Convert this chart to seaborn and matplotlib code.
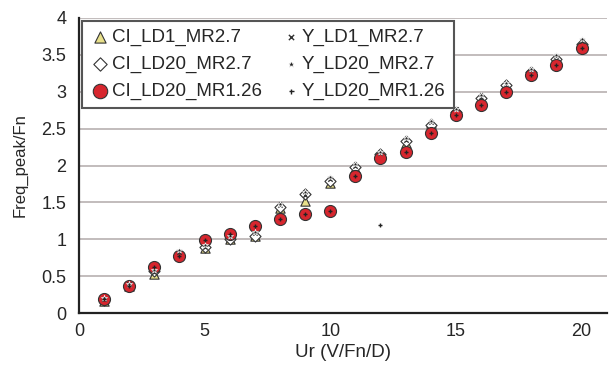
import numpy as np
import pandas as pd
import matplotlib
matplotlib.use("Agg")
import matplotlib.pyplot as plt
import seaborn as sns

sns.set_style("white")
plt.rcParams['font.family'] = ['Liberation Sans', 'DejaVu Sans']

ur = [1, 2, 3, 4, 5, 6, 7, 8, 9, 10, 11, 12, 13, 14, 15, 16, 17, 18, 19, 20]
ci_ld1_mr27 = [0.17, 0.37, 0.53, 0.80, 0.88, 1.00, 1.05, 1.42, 1.52, 1.76, 1.97, 2.14, 2.30, 2.57, 2.73, 2.88, 3.08, 3.26, 3.45, 3.67]
ci_ld20_mr27 = [0.18, 0.37, 0.57, 0.77, 0.89, 1.01, 1.05, 1.44, 1.62, 1.79, 1.98, 2.15, 2.33, 2.55, 2.72, 2.91, 3.09, 3.27, 3.45, 3.65]
ci_ld20_mr126 = [0.19, 0.37, 0.62, 0.78, 0.99, 1.07, 1.18, 1.27, 1.34, 1.39, 1.86, 2.10, 2.19, 2.44, 2.68, 2.82, 3.00, 3.23, 3.36, 3.59]
y_ld1_mr27 = [0.19, 0.39, 0.56, 0.83, 0.90, 1.03, 1.08, 1.46, 1.60, 1.82, 2.00, 2.17, 2.35, 2.59, 2.76, 2.93, 3.11, 3.29, 3.48, 3.69]
y_ld20_mr27 = [0.20, 0.40, 0.58, 0.85, 0.92, 1.04, 1.10, 1.48, 1.64, 1.84, 2.02, 2.19, 2.37, 2.61, 2.77, 2.95, 3.12, 3.31, 3.50, 3.71]
y_ld20_mr126 = [0.19, 0.37, 0.62, 0.78, 0.99, 1.07, 1.18, 1.27, 1.34, 1.39, 1.86, 1.20, 2.19, 2.44, 2.68, 2.82, 3.00, 3.23, 3.36, 3.59]

series = [
    ("CI_LD1_MR2.7", ci_ld1_mr27, dict(marker="^", s=45, color="#e8e08a", edgecolor="#333333", linewidth=0.8)),
    ("CI_LD20_MR2.7", ci_ld20_mr27, dict(marker="D", s=32, color="white", edgecolor="#333333", linewidth=0.8)),
    ("CI_LD20_MR1.26", ci_ld20_mr126, dict(marker="o", s=75, color="#d7262e", edgecolor="#333333", linewidth=0.8)),
    ("Y_LD1_MR2.7", y_ld1_mr27, dict(marker="x", s=10, color="#333333", linewidth=1.0)),
    ("Y_LD20_MR2.7", y_ld20_mr27, dict(marker="*", s=20, color="#222222", linewidth=0.5)),
    ("Y_LD20_MR1.26", y_ld20_mr126, dict(marker="+", s=9, color="#222222", linewidth=1.0)),
]

fig = plt.figure(figsize=(6.11, 3.81), dpi=100)
ax = fig.add_axes([0.129, 0.178, 0.864, 0.775])

for name, vals, kw in series:
    df = pd.DataFrame({"Ur": ur, "val": vals})
    sns.scatterplot(data=df, x="Ur", y="val", ax=ax, label=name, zorder=3, **kw)

ax.set_xlim(0, 21)
ax.set_ylim(0, 4)
ax.set_xticks([0, 5, 10, 15, 20])
ax.set_yticks(np.arange(0, 4.01, 0.5))
ax.set_yticklabels(["0", "0.5", "1", "1.5", "2", "2.5", "3", "3.5", "4"])
ax.yaxis.grid(True, color="#b8b0b0", linewidth=1.2)
ax.xaxis.grid(False)
ax.tick_params(axis="x", direction="in", length=4, width=1, color="#888888", labelsize=13, pad=7)
ax.tick_params(axis="y", length=0, labelsize=13, pad=9)
for sp in ["top", "right"]:
    ax.spines[sp].set_visible(False)
for sp in ["left", "bottom"]:
    ax.spines[sp].set_color("#222222")
    ax.spines[sp].set_linewidth(1.6)

ax.set_xlabel("Ur (V/Fn/D)", fontsize=13.5, labelpad=3)
ax.set_ylabel("Freq_peak/Fn", fontsize=12, labelpad=10)

leg = ax.legend(loc="upper left", ncol=2, fontsize=13.5, frameon=True, fancybox=False,
                edgecolor="#555555", framealpha=1, borderpad=0.45, handletextpad=0.05,
                columnspacing=1.0, labelspacing=0.5, handlelength=1.1, markerscale=1.2,
                bbox_to_anchor=(0.0, 1.0), borderaxespad=0.15)
leg.get_frame().set_linewidth(1.5)

fig.savefig("out.png", dpi=100)
